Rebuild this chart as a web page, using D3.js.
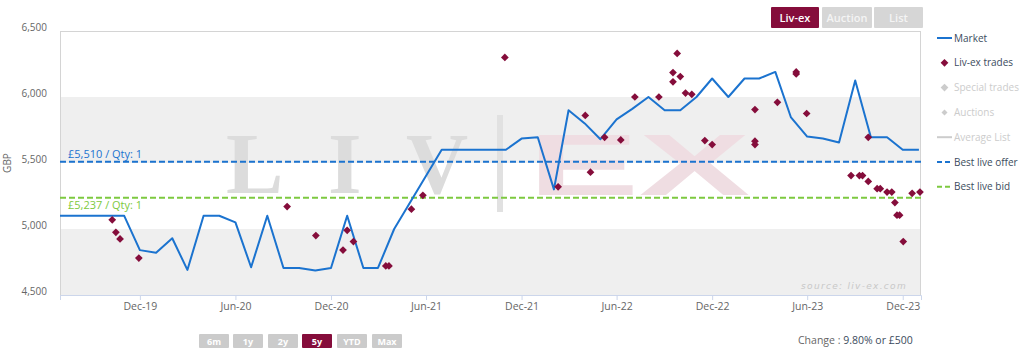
<!DOCTYPE html>
<html>
<head>
<meta charset="utf-8">
<script src="https://cdnjs.cloudflare.com/ajax/libs/d3/7.8.5/d3.min.js"></script>
<style>
body { margin: 0; background: #fff; font-family: "Open Sans", sans-serif; }
</style>
</head>
<body>
<svg id="chart"></svg>
<script>
// market price, monthly
const marketDates = [
    "2019-07-01", "2019-08-01", "2019-09-01", "2019-10-01", "2019-11-01", "2019-12-01",
    "2020-01-01", "2020-02-01", "2020-03-01", "2020-04-01", "2020-05-01", "2020-06-01",
    "2020-07-01", "2020-08-01", "2020-09-01", "2020-10-01", "2020-11-01", "2020-12-01",
    "2021-01-01", "2021-02-01", "2021-03-01", "2021-04-01", "2021-07-01", "2021-08-01",
    "2021-09-01", "2021-10-01", "2021-11-01", "2021-12-01", "2022-01-01", "2022-02-01",
    "2022-03-01", "2022-04-01", "2022-05-01", "2022-06-01", "2022-07-01", "2022-08-01",
    "2022-09-01", "2022-10-01", "2022-11-01", "2022-12-01", "2023-01-01", "2023-02-01",
    "2023-03-01", "2023-04-01", "2023-05-01", "2023-06-01", "2023-07-01", "2023-08-01",
    "2023-09-01", "2023-10-01", "2023-11-01", "2023-12-01", "2024-01-01"
]
const marketValues = [
    5100, 5100, 5100, 5100, 5100, 4840,
    4820, 4930, 4690, 5100, 5100, 5050,
    4710, 5100, 4705, 4705, 4685, 4705,
    5100, 4705, 4705, 5000, 5600, 5600,
    5600, 5600, 5600, 5685, 5695, 5300,
    5900, 5800, 5680, 5830, 5910, 6000,
    5900, 5900, 6000, 6140, 6000, 6140,
    6140, 6190, 5845, 5700, 5685, 5655,
    6125, 5695, 5695, 5600, 5600
]

// Liv-ex trades
const tradeDates = [
    "2019-10-09", "2019-10-16", "2019-10-24", "2019-11-29", "2020-09-08", "2020-11-02",
    "2020-12-24", "2021-01-01", "2021-01-13", "2021-03-16", "2021-03-22", "2021-05-04",
    "2021-05-26", "2021-10-30", "2022-02-09", "2022-04-02", "2022-04-12", "2022-05-09",
    "2022-06-09", "2022-07-06", "2022-08-21", "2022-09-17", "2022-09-17", "2022-09-25",
    "2022-10-01", "2022-10-11", "2022-10-23", "2022-11-17", "2022-12-01", "2023-02-21",
    "2023-02-21", "2023-02-21", "2023-04-05", "2023-05-11", "2023-05-11", "2023-05-31",
    "2023-08-24", "2023-09-09", "2023-09-15", "2023-09-26", "2023-09-26", "2023-10-13",
    "2023-10-19", "2023-11-01", "2023-11-10", "2023-11-16", "2023-11-20", "2023-11-25",
    "2023-12-02", "2023-12-19", "2024-01-03"
]
const tradeValues = [
    5070, 4975, 4925, 4780, 5170, 4950,
    4840, 4990, 4905, 4720, 4720, 5150,
    5255, 6300, 5320, 5860, 5430, 5695,
    5675, 6000, 6000, 6185, 6115, 6330,
    6155, 6030, 6020, 5670, 5640, 5905,
    5665, 5640, 5960, 6190, 6175, 5875,
    5405, 5405, 5405, 5695, 5360, 5305,
    5305, 5280, 5280, 5200, 5105, 5105,
    4905, 5270, 5280
]

const bestOffer = 5510
const bestBid = 5237

const yTicks = [4500, 5000, 5500, 6000, 6500]
const xTickDates = ["2019-12-01", "2020-06-01", "2020-12-01", "2021-06-01", "2021-12-01",
    "2022-06-01", "2022-12-01", "2023-06-01", "2023-12-01"]
const xTickLabels = ["Dec-19", "Jun-20", "Dec-20", "Jun-21", "Dec-21", "Jun-22", "Dec-22", "Jun-23", "Dec-23"]

const legendLabels = ["Market", "Liv-ex trades", "Special trades", "Auctions", "Average List", "Best live offer", "Best live bid"]
const sourceButtons = ["Liv-ex", "Auction", "List"]
const rangeButtons = ["6m", "1y", "2y", "5y", "YTD", "Max"]

const width = 1024
const height = 351
const plotLeft = 60, plotRight = 921, plotTop = 31, plotBottom = 295

const blue = "#1b73cf"
const green = "#7dc940"
const maroon = "#850d3b"

const parse = d3.timeParse("%Y-%m-%d")
const market = marketDates.map((d, i) => ({ date: parse(d), value: marketValues[i] }))
const trades = tradeDates.map((d, i) => ({ date: parse(d), value: tradeValues[i] }))

const svg = d3.select("#chart")
    .attr("width", width)
    .attr("height", height)
    .style("display", "block");

const x = d3.scaleTime()
    .domain([parse("2019-07-01"), parse("2024-01-05")])
    .range([plotLeft, plotRight]);

const y = d3.scaleLinear()
    .domain([4500, 6500])
    .range([plotBottom, plotTop]);

// alternating bands
const bands = [[5500, 6000], [4500, 5000]]
svg.selectAll(".band")
    .data(bands)
    .enter()
    .append("rect")
    .attr("class", "band")
    .attr("x", plotLeft)
    .attr("width", plotRight - plotLeft)
    .attr("y", d => y(d[1]))
    .attr("height", d => y(d[0]) - y(d[1]))
    .attr("fill", "#efefef");

// watermark
const wm = svg.append("g")
wm.append("text")
    .attr("x", 226).attr("y", 193)
    .attr("textLength", 242).attr("lengthAdjust", "spacing")
    .style("font-family", "'Liberation Serif', serif")
    .style("font-weight", "bold")
    .style("font-size", "86px")
    .attr("fill", "#dcdcdc")
    .text("LIV");
wm.append("rect")
    .attr("x", 497).attr("y", 115).attr("width", 6).attr("height", 97)
    .attr("fill", "#e1e1e1");
wm.append("text")
    .attr("x", 528).attr("y", 195)
    .attr("textLength", 222).attr("lengthAdjust", "spacingAndGlyphs")
    .style("font-family", "'Liberation Sans', sans-serif")
    .style("font-weight", "bold")
    .style("font-size", "88px")
    .attr("fill", "#efdde2")
    .text("EX");

// source note
svg.append("text")
    .attr("x", 907).attr("y", 289)
    .attr("text-anchor", "end")
    .style("font-family", "'DejaVu Sans', sans-serif")
    .style("font-style", "italic")
    .style("font-size", "9px")
    .style("letter-spacing", "1.3px")
    .attr("fill", "#c8c8c8")
    .text("source: liv-ex.com");

// plot frame
svg.append("rect")
    .attr("x", plotLeft + 0.5).attr("y", plotTop + 0.5)
    .attr("width", plotRight - plotLeft - 1).attr("height", plotBottom - plotTop)
    .attr("fill", "none")
    .attr("stroke", "#d4d4d4");

// axes
const xAxis = d3.axisBottom(x)
    .tickValues(xTickDates.map(parse))
    .tickFormat((d, i) => xTickLabels[i])
    .tickSize(5)
    .tickPadding(3);

const gx = svg.append("g")
    .attr("transform", `translate(0, ${plotBottom})`)
    .call(xAxis);
gx.select(".domain").attr("stroke", "#ccd6eb");
gx.selectAll(".tick line").attr("stroke", "#ccd6eb");
gx.selectAll(".tick text")
    .attr("fill", "#666")
    .style("font-family", "'Open Sans', sans-serif")
    .style("font-size", "10.5px");

const yAxis = d3.axisLeft(y)
    .tickValues(yTicks)
    .tickFormat(d3.format(","))
    .tickSize(0)
    .tickPadding(13);

const gy = svg.append("g")
    .attr("transform", `translate(${plotLeft}, 0)`)
    .call(yAxis);
gy.select(".domain").remove();
gy.selectAll(".tick text")
    .attr("fill", "#666")
    .attr("dy", "-0.05em")
    .style("font-family", "'Open Sans', sans-serif")
    .style("font-size", "10px");

svg.append("text")
    .attr("transform", `translate(11, ${(plotTop + plotBottom) / 2}) rotate(-90)`)
    .attr("text-anchor", "middle")
    .attr("fill", "#666")
    .style("font-size", "10px")
    .text("GBP");

// best offer / bid
const quotes = [
    { value: bestOffer, color: blue, label: "£5,510 / Qty: 1", dy: -4 },
    { value: bestBid, color: green, label: "£5,237 / Qty: 1", dy: 11 }
]
svg.selectAll(".quote")
    .data(quotes)
    .enter()
    .append("line")
    .attr("class", "quote")
    .attr("x1", plotLeft).attr("x2", plotRight)
    .attr("y1", d => y(d.value)).attr("y2", d => y(d.value))
    .attr("stroke", d => d.color)
    .attr("stroke-width", 2)
    .attr("stroke-dasharray", "6,3");

svg.selectAll(".quote-label")
    .data(quotes)
    .enter()
    .append("text")
    .attr("class", "quote-label")
    .attr("x", 68)
    .attr("y", d => y(d.value) + d.dy)
    .attr("fill", d => d.color)
    .style("font-size", "11px")
    .text(d => d.label);

// market line
const line = d3.line()
    .x(d => x(d.date))
    .y(d => y(d.value));

svg.append("path")
    .datum(market)
    .attr("d", line)
    .attr("fill", "none")
    .attr("stroke", blue)
    .attr("stroke-width", 2)
    .attr("stroke-linejoin", "round");

// trades
const diamond = d3.symbol().type(d3.symbolSquare).size(30)
svg.selectAll(".trade")
    .data(trades)
    .enter()
    .append("path")
    .attr("class", "trade")
    .attr("d", diamond)
    .attr("transform", d => `translate(${x(d.date)}, ${y(d.value)}) rotate(45)`)
    .attr("fill", maroon);

// legend
const legend = svg.append("g").attr("transform", "translate(937, 38)")
const activeLegend = [true, true, false, false, false, true, true]
legendLabels.forEach((label, i) => {
    const g = legend.append("g").attr("transform", `translate(0, ${i * 24.8})`)
    const on = activeLegend[i]
    if (i === 0 || i === 4 || i === 5 || i === 6) {
        const col = i === 0 ? blue : i === 4 ? "#cccccc" : i === 5 ? blue : green
        g.append("line")
            .attr("x1", 0).attr("x2", 15)
            .attr("stroke", col)
            .attr("stroke-width", 2)
            .attr("stroke-dasharray", i >= 5 ? "5,3" : null);
    } else {
        g.append("path")
            .attr("d", d3.symbol().type(d3.symbolSquare).size(i === 3 ? 18 : 30)())
            .attr("transform", "translate(7.5, 0) rotate(45)")
            .attr("fill", on ? maroon : "#cccccc");
    }
    g.append("text")
        .attr("x", 17)
        .attr("dy", "0.35em")
        .attr("fill", on ? "#3b4b5d" : "#cccccc")
        .style("font-size", "10px")
        .text(label);
});

// source buttons
const srcX = [771, 822, 874]
const srcW = [48, 50, 49]
sourceButtons.forEach((label, i) => {
    svg.append("rect")
        .attr("x", srcX[i]).attr("y", 7)
        .attr("width", srcW[i]).attr("height", 21)
        .attr("rx", 1)
        .attr("fill", i === 0 ? maroon : "#d6d6d6");
    svg.append("text")
        .attr("x", srcX[i] + srcW[i] / 2).attr("y", 21.5)
        .attr("text-anchor", "middle")
        .attr("fill", i === 0 ? "#fff" : "#f4f4f4")
        .style("font-size", "11px")
        .style("font-weight", "600")
        .text(label);
});

// range buttons
const rangeX = [199, 233, 268, 302, 337, 372]
rangeButtons.forEach((label, i) => {
    svg.append("rect")
        .attr("x", rangeX[i]).attr("y", 334)
        .attr("width", 30).attr("height", 14)
        .attr("rx", 1)
        .attr("fill", label === "5y" ? maroon : "#cbcbcb");
    svg.append("text")
        .attr("x", rangeX[i] + 15).attr("y", 344.5)
        .attr("text-anchor", "middle")
        .attr("fill", "#fff")
        .style("font-size", "9px")
        .style("font-weight", "bold")
        .text(label);
});

// change
const change = svg.append("text")
    .attr("x", 798).attr("y", 344)
    .attr("fill", "#666")
    .style("font-size", "10.5px")
    .text("Change : ");
change.append("tspan")
    .attr("fill", "#3b4b5d")
    .text("9.80% or £500");
</script>
</body>
</html>
